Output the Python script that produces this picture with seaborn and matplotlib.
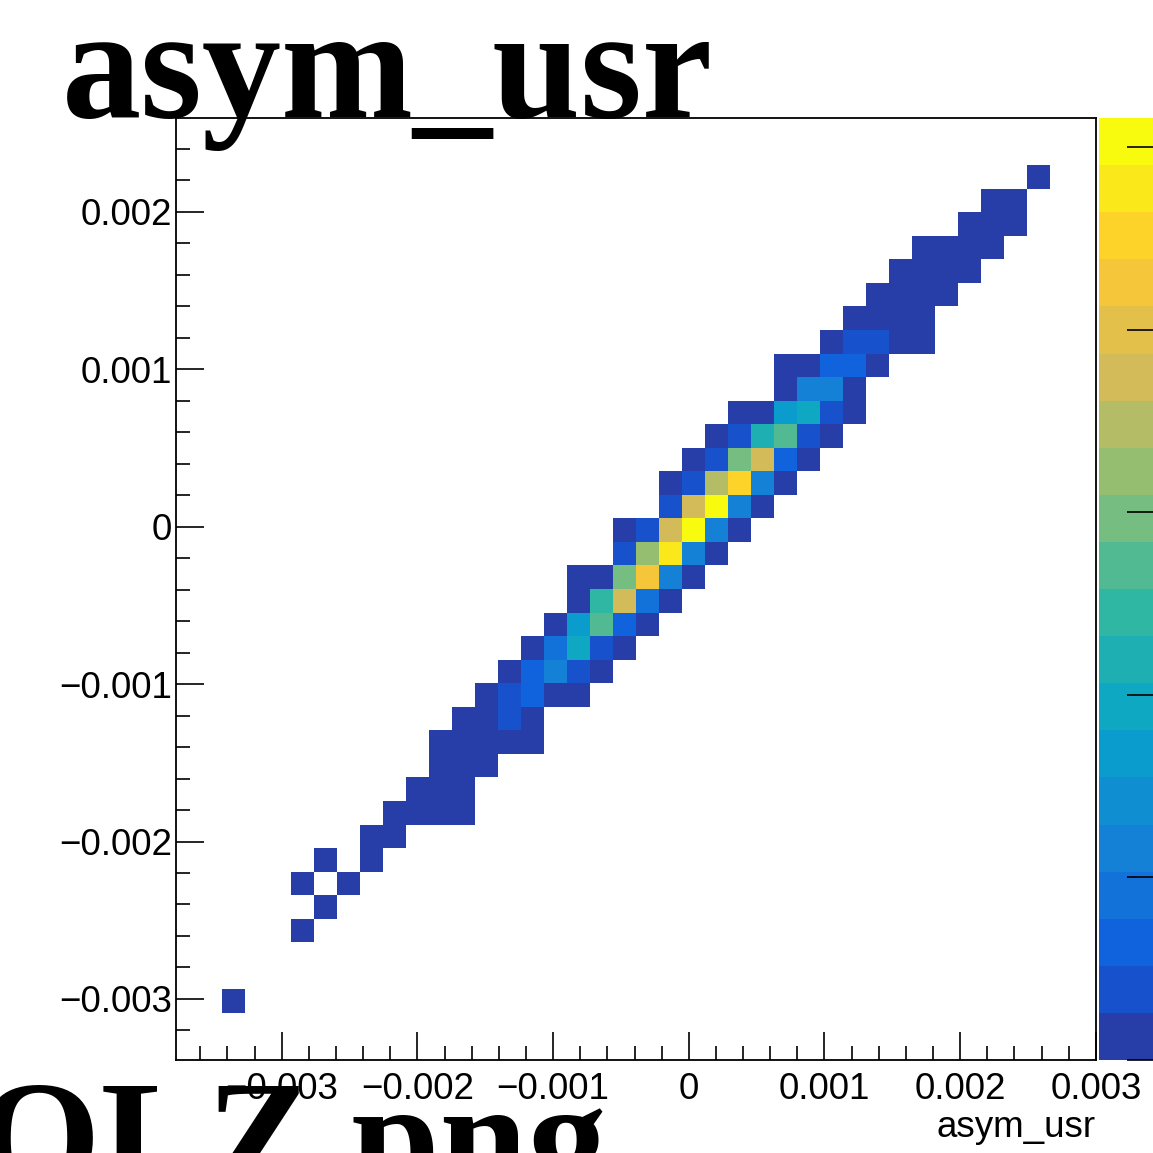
import numpy as np
import matplotlib
matplotlib.use("Agg")
import matplotlib.pyplot as plt
import seaborn as sns
from matplotlib.colors import LinearSegmentedColormap, ListedColormap
from matplotlib.ticker import MultipleLocator, FuncFormatter

# ---- histogram definition (40 x 40 bins) ----
n_bins = 40
x_lo, x_hi = -0.003779, 0.003001
y_lo, y_hi = -0.003388, 0.002597

# ---- filled cells: for each y-bin, first x-bin and the counts going right ----
row_bin = [2, 5, 6, 7, 8, 9, 10, 11, 12, 13, 14, 15, 16, 17, 18, 19, 20,
           21, 22, 23, 24, 25, 26, 27, 28, 29, 30, 31, 32, 33, 34, 35, 36, 37]
row_start = [2, 5, 6, 5, 6, 8, 9, 10, 11, 11, 12, 13, 14, 15, 16, 17, 17,
             19, 19, 21, 21, 22, 23, 24, 26, 26, 28, 29, 30, 31, 32, 34, 35, 37]
row_counts = [
    [1],
    [1],
    [1],
    [1, 0, 1],
    [1, 0, 2],
    [3, 2],
    [4, 6, 3, 2],
    [5, 9, 6],
    [8, 14, 7],
    [4, 12, 20, 11, 3],
    [10, 30, 75, 9],
    [12, 80, 120, 25, 6],
    [15, 125, 235, 85, 10],
    [18, 190, 380, 70, 8],
    [20, 330, 540, 130, 12],
    [25, 485, 745, 175, 14],
    [8, 40, 590, 840, 240, 20],
    [90, 650, 960, 235, 30],
    [30, 95, 745, 1025, 230, 25],
    [85, 745, 1015, 235, 35],
    [20, 95, 695, 905, 235, 30],
    [35, 80, 595, 750, 130, 20],
    [40, 90, 440, 540, 90, 30],
    [30, 45, 335, 385, 95, 25],
    [40, 230, 235, 35],
    [15, 45, 130, 125, 30],
    [40, 80, 75, 30, 8],
    [35, 40, 30, 12],
    [25, 30, 20, 6],
    [18, 25, 15, 5],
    [10, 15, 12, 4],
    [8, 10, 5],
    [4, 5],
    [1],
]

z_max = 1032
z_ticks = [0, 200, 400, 600, 800, 1000]

# bin centres for each filled cell
dx = (x_hi - x_lo) / n_bins
dy = (y_hi - y_lo) / n_bins
xs, ys, ws = [], [], []
for r, c0, counts in zip(row_bin, row_start, row_counts):
    for k, w in enumerate(counts):
        xs.append(x_lo + (c0 + k + 0.5) * dx)
        ys.append(y_lo + (r + 0.5) * dy)
        ws.append(w)

# ROOT kBird palette, 20 contour levels
stops = [0.0, 0.125, 0.25, 0.375, 0.5, 0.625, 0.75, 0.875, 1.0]
red = [0.2082, 0.0592, 0.0780, 0.0232, 0.1802, 0.5301, 0.8186, 0.9956, 0.9764]
green = [0.1664, 0.3599, 0.5041, 0.6419, 0.7178, 0.7492, 0.7328, 0.7862, 0.9832]
blue = [0.5293, 0.8684, 0.8385, 0.7914, 0.6425, 0.4662, 0.3499, 0.1968, 0.0539]
bird_full = LinearSegmentedColormap.from_list(
    "bird", list(zip(stops, zip(red, green, blue))))
bird = ListedColormap([bird_full((i + 1) / 20) for i in range(20)])

sns.set_style("white")
plt.rcParams['font.family'] = ['Liberation Sans', 'DejaVu Sans']
plt.rcParams['axes.unicode_minus'] = True
plt.rcParams['text.color'] = 'black'
plt.rcParams['axes.labelcolor'] = 'black'
plt.rcParams['xtick.color'] = 'black'
plt.rcParams['ytick.color'] = 'black'
plt.rcParams['axes.axisbelow'] = False

W = 1153
fig = plt.figure(figsize=(W / 100, W / 100), dpi=100)
ax = fig.add_axes([176 / W, 93 / W, 920 / W, 942 / W])
cax = fig.add_axes([1099 / W, 93 / W, 60 / W, 942 / W])

sns.histplot(x=xs, y=ys, weights=ws, bins=n_bins,
             binrange=((x_lo, x_hi), (y_lo, y_hi)),
             cmap=bird, vmin=0, vmax=z_max,
             cbar=True, cbar_ax=cax, ax=ax)

ax.set_xlim(x_lo, x_hi)
ax.set_ylim(y_lo, y_hi)
ax.set_axisbelow(False)


def fmt(v, pos):
    v = round(v, 6)
    if abs(v) < 1e-9:
        return "0"
    return ("%g" % v).replace("-", "\u2212")


for axis in (ax.xaxis, ax.yaxis):
    axis.set_major_locator(MultipleLocator(0.001))
    axis.set_minor_locator(MultipleLocator(0.0002))
    axis.set_major_formatter(FuncFormatter(fmt))

ax.tick_params(which='both', direction='in', top=False, right=False,
               bottom=True, left=True, color='black', width=1.2)
ax.tick_params(which='major', length=20, labelsize=26.5, labelcolor='black')
ax.tick_params(which='minor', length=10)
ax.tick_params(axis='x', which='major', pad=8.5)
ax.tick_params(axis='y', which='major', pad=3)
for s in ax.spines.values():
    s.set_visible(True)
    s.set_color('black')
    s.set_linewidth(1.3)

ax.set_xlabel("asym_usr", fontsize=26.5, loc='right', labelpad=2, color='black')
ax.set_ylabel("")

cbar = ax.collections[0].colorbar
cbar.outline.set_visible(False)
cbar.set_ticks(z_ticks)
cax.set_axisbelow(False)
cax.tick_params(axis='y', direction='in', length=23, width=1.2,
                right=True, left=False, labelright=False, labelleft=False,
                color='black')

# big ROOT-canvas captions
fig.text(62 / W, 1 - 117 / W, "asym_usr", fontsize=114, fontweight='bold',
         family='Liberation Serif', ha='left', va='baseline', zorder=10,
         color='black')
fig.text(607 / W, 1 - 1190 / W, "COLZ.png", fontsize=114, fontweight='bold',
         family='Liberation Serif', ha='right', va='baseline', zorder=10,
         color='black')

fig.savefig("out.png", dpi=100)
